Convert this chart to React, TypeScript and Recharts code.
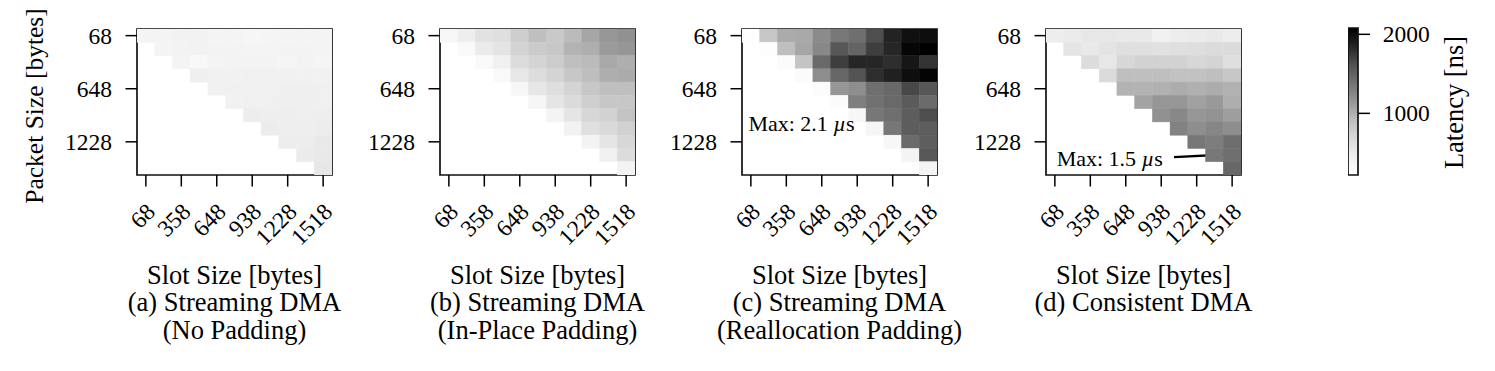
import React from 'react';
import {
  ScatterChart,
  Scatter,
  XAxis,
  YAxis,
  ReferenceArea,
  ReferenceLine,
  ReferenceDot,
} from 'recharts';

// ---------------- data ----------------
const slotSizes = [68, 213, 358, 503, 648, 793, 938, 1083, 1228, 1373, 1518];
const packetSizes = [68, 213, 358, 503, 648, 793, 938, 1083, 1228, 1373, 1518];
const xTickIdx = [0, 2, 4, 6, 8, 10];
const yTickIdx = [0, 4, 8];
const colorbarTicks = [1000, 2000];
const VMIN = 220;
const VMAX = 2080;

// Row r = packet size index r; values for slot size indices r..10 (latency in ns)
const latencyNoPadding = [
  [385, 385, 416, 416, 385, 385, 354, 370, 385, 385, 385],
  [385, 400, 416, 400, 400, 385, 385, 400, 400, 385],
  [385, 323, 385, 400, 400, 400, 370, 400, 370],
  [462, 447, 432, 447, 447, 432, 432, 432],
  [432, 447, 447, 447, 462, 462, 447],
  [432, 447, 447, 462, 462, 447],
  [483, 473, 473, 462, 473],
  [493, 473, 473, 483],
  [483, 483, 523],
  [503, 523],
  [543],
];
const latencyInPlace = [
  [338, 473, 594, 624, 778, 903, 820, 928, 1053, 1148, 1180],
  [307, 503, 574, 737, 803, 836, 975, 1005, 1124, 1148],
  [307, 447, 655, 728, 795, 903, 928, 1041, 1005],
  [307, 543, 644, 728, 836, 912, 1005, 1023],
  [338, 553, 624, 728, 836, 903, 903],
  [354, 564, 665, 770, 836, 836],
  [385, 564, 703, 745, 870],
  [416, 624, 685, 753],
  [400, 564, 703],
  [432, 655],
  [400],
];
const latencyRealloc = [
  [230, 836, 1023, 1035, 1226, 1346, 1414, 1635, 1858, 1977, 1989],
  [245, 903, 1053, 1240, 1583, 1491, 1718, 1842, 2040, 2077],
  [277, 861, 1456, 1718, 1842, 1842, 1801, 1939, 1775],
  [277, 1213, 1470, 1604, 1801, 1876, 1989, 2058],
  [277, 1148, 1200, 1414, 1456, 1666, 1583],
  [277, 1306, 1400, 1456, 1555, 1442],
  [338, 1359, 1414, 1541, 1635],
  [354, 1359, 1541, 1527],
  [338, 1442, 1527],
  [385, 1583],
  [400],
];
const latencyConsistent = [
  [483, 503, 543, 543, 523, 523, 432, 483, 503, 523, 483],
  [574, 523, 574, 624, 624, 604, 624, 634, 665, 665],
  [655, 543, 703, 745, 745, 745, 703, 728, 624],
  [665, 903, 903, 903, 878, 878, 903, 836],
  [975, 975, 987, 1017, 993, 1017, 987],
  [1071, 1148, 1148, 1083, 1130, 1005],
  [1180, 1240, 1148, 1167, 1100],
  [1286, 1206, 1253, 1200],
  [1359, 1319, 1421],
  [1346, 1414],
  [1470],
];

const captionsA = ['Slot Size [bytes]', '(a) Streaming DMA', '(No Padding)'];
const captionsB = ['Slot Size [bytes]', '(b) Streaming DMA', '(In-Place Padding)'];
const captionsC = ['Slot Size [bytes]', '(c) Streaming DMA', '(Reallocation Padding)'];
const captionsD = ['Slot Size [bytes]', '(d) Consistent DMA'];

// ---------------- style ----------------
const FONT = '"Liberation Serif", "Times New Roman", Times, serif';
const PLOT_W = 195;
const PLOT_H = 146;
const CW = PLOT_W / 11;
const CH = PLOT_H / 11;
const Y_AXIS_W = 130;
const RIGHT_PAD = 30;
const CHART_W = Y_AXIS_W + PLOT_W + RIGHT_PAD;
const CHART_H = 371;
const PLOT_TOP = 29;

// matplotlib "Greys" colormap control points
const GREYS: [number, number][] = [
  [0, 255], [0.125, 240], [0.25, 217], [0.375, 189], [0.5, 150],
  [0.625, 115], [0.75, 82], [0.875, 37], [1, 0],
];
function greyColor(v: number): string {
  let t = (v - VMIN) / (VMAX - VMIN);
  t = Math.max(0, Math.min(1, t));
  for (let i = 0; i < GREYS.length - 1; i++) {
    const [t0, g0] = GREYS[i];
    const [t1, g1] = GREYS[i + 1];
    if (t <= t1) {
      const g = Math.round(g0 + ((t - t0) / (t1 - t0)) * (g1 - g0));
      return `rgb(${g},${g},${g})`;
    }
  }
  return 'rgb(0,0,0)';
}

function toPoints(rows: number[][]) {
  const pts: { x: number; y: number; v: number }[] = [];
  rows.forEach((row, r) => {
    row.forEach((v, k) => {
      pts.push({ x: r + k, y: r, v });
    });
  });
  return pts;
}

const CellShape = (p: any) => {
  const { cx, cy, payload } = p;
  if (cx == null || cy == null) return null;
  const c = greyColor(payload.v);
  return (
    <rect
      x={cx - CW / 2}
      y={cy - CH / 2}
      width={CW}
      height={CH}
      fill={c}
      stroke={c}
      strokeWidth={0.5}
    />
  );
};

const XTick = (p: any) => {
  const { x, y, payload } = p;
  const ax = x + 5;
  return (
    <text
      x={ax}
      y={y}
      transform={`rotate(-45, ${ax}, ${y})`}
      textAnchor="end"
      dominantBaseline="central"
      fontFamily={FONT}
      fontSize={23.5}
      fill="#000"
    >
      {slotSizes[payload.value]}
    </text>
  );
};

const YTick = (p: any) => {
  const { x, y, payload } = p;
  return (
    <text
      x={x}
      y={y}
      textAnchor="end"
      dominantBaseline="central"
      fontFamily={FONT}
      fontSize={23.5}
      fill="#000"
    >
      {packetSizes[payload.value]}
    </text>
  );
};

const CbTick = (p: any) => {
  const { x, y, payload } = p;
  return (
    <text
      x={x}
      y={y}
      textAnchor="start"
      dominantBaseline="central"
      fontFamily={FONT}
      fontSize={23.5}
      fill="#000"
    >
      {payload.value}
    </text>
  );
};

const makeCaption = (lines: string[]) => (props: any) => {
  const vb = props.viewBox || { x: Y_AXIS_W, y: PLOT_TOP + PLOT_H, width: PLOT_W, height: 196 };
  const cx = vb.x + vb.width / 2;
  const base = vb.y;
  const offs = [108.5, 136, 163.5];
  return (
    <g>
      {lines.map((l, i) => (
        <text
          key={i}
          x={cx}
          y={base + offs[i]}
          textAnchor="middle"
          fontFamily={FONT}
          fontSize={26.5}
          fill="#000"
        >
          {l}
        </text>
      ))}
    </g>
  );
};

const yTitle = (props: any) => {
  const vb = props.viewBox || { x: 0, y: PLOT_TOP, width: Y_AXIS_W, height: PLOT_H };
  const x = vb.x + vb.width - 94;
  const y = vb.y + vb.height / 2 + 4;
  return (
    <text
      x={x}
      y={y}
      transform={`rotate(-90, ${x}, ${y})`}
      textAnchor="middle"
      fontFamily={FONT}
      fontSize={25.5}
      fill="#000"
    >
      Packet Size [bytes]
    </text>
  );
};

type Annot = {
  label: string;
  textAt: [number, number];
  from: [number, number];
  to: [number, number];
  color: string;
};

const annotC: Annot = {
  label: '2.1',
  textAt: [-0.14, 7.16],
  from: [4.71, 5.23],
  to: [9.73, 1.26],
  color: '#8a8a8a',
};
const annotD: Annot = {
  label: '1.5',
  textAt: [0.1, 9.82],
  from: [6.72, 9.15],
  to: [9.65, 8.96],
  color: '#000',
};

function Panel({
  left,
  rows,
  captions,
  showYTitle,
  annot,
}: {
  left: number;
  rows: number[][];
  captions: string[];
  showYTitle?: boolean;
  annot?: Annot;
}) {
  const data = toPoints(rows);
  return (
    <div style={{ position: 'absolute', left: left - Y_AXIS_W, top: 0 }}>
      <ScatterChart
        width={CHART_W}
        height={CHART_H}
        margin={{ top: PLOT_TOP, right: RIGHT_PAD, bottom: 0, left: 0 }}
      >
        <XAxis
          type="number"
          dataKey="x"
          domain={[-0.5, 10.5]}
          ticks={xTickIdx}
          interval={0}
          allowDataOverflow
          axisLine={false}
          stroke="#000"
          tickLine={{ stroke: '#000', strokeWidth: 1.5 }}
          tickSize={11.5}
          tickMargin={21}
          height={CHART_H - PLOT_TOP - PLOT_H}
          tick={<XTick />}
          label={{ content: makeCaption(captions) }}
        />
        <YAxis
          type="number"
          dataKey="y"
          domain={[-0.5, 10.5]}
          reversed
          ticks={yTickIdx}
          interval={0}
          allowDataOverflow
          width={Y_AXIS_W}
          axisLine={false}
          stroke="#000"
          tickLine={{ stroke: '#000', strokeWidth: 1.5 }}
          tickSize={11.5}
          tickMargin={13.5}
          tick={<YTick />}
          label={showYTitle ? { content: yTitle } : undefined}
        />
        <Scatter data={data} shape={CellShape} isAnimationActive={false} />
        <ReferenceArea
          x1={-0.5}
          x2={10.5}
          y1={-0.5}
          y2={10.5}
          fill="none"
          fillOpacity={0}
          stroke="#111"
          strokeWidth={1.7}
          ifOverflow="visible"
        />
        {annot && (
          <ReferenceLine
            segment={[
              { x: annot.from[0], y: annot.from[1] },
              { x: annot.to[0], y: annot.to[1] },
            ]}
            stroke={annot.color}
            strokeWidth={2.4}
            ifOverflow="visible"
          />
        )}
        {annot && (
          <ReferenceDot
            x={annot.textAt[0]}
            y={annot.textAt[1]}
            r={0}
            ifOverflow="visible"
            shape={(p: any) => (
              <text x={p.cx} y={p.cy} fontFamily={FONT} fontSize={22} fill="#000">
                {`Max: ${annot.label} `}
                <tspan fontStyle="italic">µ</tspan>
                <tspan>s</tspan>
              </text>
            )}
          />
        )}
      </ScatterChart>
    </div>
  );
}

const colorbarAnchor = [{ x: 0.5, y: VMIN }, { x: 0.5, y: VMAX }];

function Colorbar() {
  const cbW = 10;
  const axW = 137;
  return (
    <div style={{ position: 'absolute', left: 1348, top: 0 }}>
      <ScatterChart
        width={cbW + axW}
        height={CHART_H}
        margin={{ top: 28, right: 0, bottom: CHART_H - 28 - 147, left: 0 }}
      >
        <defs>
          <linearGradient id="greysGrad" x1="0" y1="1" x2="0" y2="0">
            {GREYS.map(([t, g]) => (
              <stop key={t} offset={t} stopColor={`rgb(${g},${g},${g})`} />
            ))}
          </linearGradient>
        </defs>
        <XAxis type="number" dataKey="x" domain={[0, 1]} hide />
        <YAxis
          type="number"
          dataKey="y"
          orientation="right"
          domain={[VMIN, VMAX]}
          ticks={colorbarTicks}
          interval={0}
          allowDataOverflow
          width={axW}
          axisLine={false}
          stroke="#000"
          tickLine={{ stroke: '#000', strokeWidth: 1.5 }}
          tickSize={12}
          tickMargin={12.7}
          tick={<CbTick />}
          label={{
            content: (props: any) => {
              const vb = props.viewBox || { x: cbW, y: 28, width: axW, height: 147 };
              const x = vb.x + 105;
              const y = vb.y + vb.height / 2 + 1;
              return (
                <text
                  x={x}
                  y={y}
                  transform={`rotate(-90, ${x}, ${y})`}
                  textAnchor="middle"
                  fontFamily={FONT}
                  fontSize={26.5}
                  fill="#000"
                >
                  Latency [ns]
                </text>
              );
            },
          }}
        />
        <Scatter data={colorbarAnchor} shape={() => <g />} isAnimationActive={false} />
        <ReferenceArea
          x1={0}
          x2={1}
          y1={VMIN}
          y2={VMAX}
          fill="url(#greysGrad)"
          fillOpacity={1}
          stroke="#111"
          strokeWidth={1.7}
          ifOverflow="visible"
        />
      </ScatterChart>
    </div>
  );
}

export default function App() {
  return (
    <div
      style={{
        position: 'absolute',
        left: 0,
        top: 0,
        width: 1495,
        height: 371,
        background: '#fff',
        fontFamily: FONT,
        overflow: 'hidden',
      }}
    >
      <Panel left={137} rows={latencyNoPadding} captions={captionsA} showYTitle />
      <Panel left={440} rows={latencyInPlace} captions={captionsB} />
      <Panel left={742} rows={latencyRealloc} captions={captionsC} annot={annotC} />
      <Panel left={1046} rows={latencyConsistent} captions={captionsD} annot={annotD} />
      <Colorbar />
    </div>
  );
}
